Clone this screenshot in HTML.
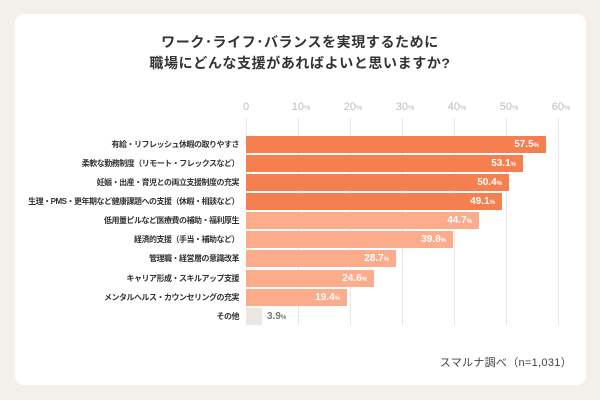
<!DOCTYPE html>
<html><head><meta charset="utf-8"><style>
*{margin:0;padding:0;box-sizing:border-box}
body{width:600px;height:400px;background:#f3efeb;position:relative;overflow:hidden;font-family:"Liberation Sans","Noto Sans CJK JP",sans-serif}
.card{position:absolute;left:15px;top:14px;width:571px;height:371px;background:#fff;border-radius:9px}
.title{position:absolute;left:0;width:600px;text-align:center;font-weight:bold;font-size:14px;color:#333;letter-spacing:0.6px;line-height:20px}
.grid{position:absolute;top:118px;height:207px;width:1px;background:#e6e6e6}
.tick{position:absolute;top:99px;font-size:11px;color:#bdbdbd;line-height:16px;width:30px;text-align:center}
.tick span{font-size:7px}
.bar{position:absolute;left:246px;height:17px}
.d{background:#f57f4f}
.l{background:#fcab8b}
.g{background:#ece7e2}
.val{position:absolute;right:7px;top:0;line-height:17px;color:#fff;font-weight:bold;font-size:10px}
.val span,.v2 span{font-size:6px}
.lab{position:absolute;right:361px;font-size:8px;font-weight:bold;color:#333;line-height:17px;white-space:nowrap;text-align:right;letter-spacing:-0.5px}
.v2{position:absolute;left:267px;color:#777;font-weight:bold;font-size:10px;line-height:17px}
.foot{position:absolute;right:28px;top:355px;font-size:11px;color:#444;line-height:16px;letter-spacing:0.3px}
</style></head><body>
<div class="card"></div>
<div class="title" style="top:32px">ワーク･ライフ･バランスを実現するために</div>
<div class="title" style="top:53px">職場にどんな支援があればよいと思いますか?</div>

<div class="grid" style="left:246px"></div>
<div class="grid" style="left:298px"></div>
<div class="grid" style="left:350px"></div>
<div class="grid" style="left:402px"></div>
<div class="grid" style="left:454px"></div>
<div class="grid" style="left:506px"></div>
<div class="grid" style="left:558px"></div>

<div class="tick" style="left:231px">0</div>
<div class="tick" style="left:286px">10<span>%</span></div>
<div class="tick" style="left:338px">20<span>%</span></div>
<div class="tick" style="left:390px">30<span>%</span></div>
<div class="tick" style="left:442px">40<span>%</span></div>
<div class="tick" style="left:494px">50<span>%</span></div>
<div class="tick" style="left:546px">60<span>%</span></div>

<div class="lab" style="top:136px">有給・リフレッシュ休暇の取りやすさ</div>
<div class="bar d" style="top:136px;width:300px"><div class="val">57.5<span>%</span></div></div>

<div class="lab" style="top:155px">柔軟な勤務制度（リモート・フレックスなど）</div>
<div class="bar d" style="top:155px;width:277px"><div class="val">53.1<span>%</span></div></div>

<div class="lab" style="top:174px">妊娠・出産・育児との両立支援制度の充実</div>
<div class="bar d" style="top:174px;width:263px"><div class="val">50.4<span>%</span></div></div>

<div class="lab" style="top:193px">生理・PMS・更年期など健康課題への支援（休暇・相談など）</div>
<div class="bar d" style="top:193px;width:256px"><div class="val">49.1<span>%</span></div></div>

<div class="lab" style="top:212px">低用量ピルなど医療費の補助・福利厚生</div>
<div class="bar l" style="top:212px;width:233px"><div class="val">44.7<span>%</span></div></div>

<div class="lab" style="top:231px">経済的支援（手当・補助など）</div>
<div class="bar l" style="top:231px;width:207px"><div class="val">39.8<span>%</span></div></div>

<div class="lab" style="top:250px">管理職・経営層の意識改革</div>
<div class="bar l" style="top:250px;width:150px"><div class="val">28.7<span>%</span></div></div>

<div class="lab" style="top:270px">キャリア形成・スキルアップ支援</div>
<div class="bar l" style="top:270px;width:128px"><div class="val">24.6<span>%</span></div></div>

<div class="lab" style="top:289px">メンタルヘルス・カウンセリングの充実</div>
<div class="bar l" style="top:289px;width:101px"><div class="val">19.4<span>%</span></div></div>

<div class="lab" style="top:308px">その他</div>
<div class="bar g" style="top:308px;width:16px"></div>
<div class="v2" style="top:308px">3.9<span>%</span></div>

<div class="foot">スマルナ調べ（n=1,031）</div>
</body></html>
